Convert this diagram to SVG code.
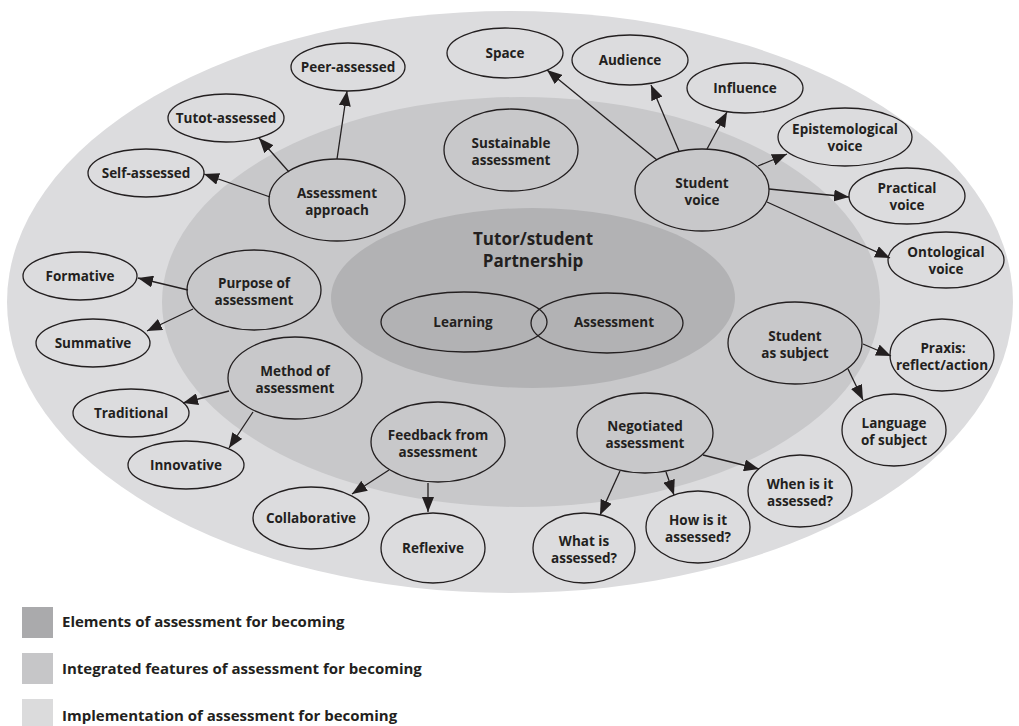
<svg xmlns="http://www.w3.org/2000/svg" width="1019" height="726" viewBox="0 0 1019 726">
<defs>
<style>
.n{fill:none;stroke:#231f20;stroke-width:1.3}
.t{font-family:"Open Sans","Liberation Sans",sans-serif;font-weight:700;font-size:13.5px;fill:#231f20;text-anchor:middle}
.h{font-size:17px}
.c{stroke:#231f20;stroke-width:1.3;fill:none;marker-end:url(#ah)}
.lg{font-family:"Open Sans","Liberation Sans",sans-serif;font-weight:700;font-size:15px;fill:#231f20}
</style>
<marker id="ah" markerUnits="userSpaceOnUse" markerWidth="16" markerHeight="12" refX="15" refY="6" orient="auto">
<path d="M0,0 L15,6 L0,12 z" fill="#231f20"/>
</marker>
</defs>
<rect width="1019" height="726" fill="#ffffff"/>
<g id="bands">
<ellipse cx="510" cy="302" rx="503" ry="291" fill="#dcdcde"/>
<ellipse cx="521" cy="302" rx="359" ry="205" fill="#c8c8ca"/>
<ellipse cx="533" cy="298" rx="202" ry="90" fill="#b2b2b4"/>
</g>
<g id="connectors">
<line class="c" x1="270" y1="197" x2="204" y2="174"/>
<line class="c" x1="289" y1="172" x2="259" y2="138"/>
<line class="c" x1="337" y1="159" x2="347" y2="91"/>
<line class="c" x1="657" y1="160" x2="547" y2="70"/>
<line class="c" x1="679" y1="151" x2="651" y2="85"/>
<line class="c" x1="707" y1="149" x2="727" y2="112"/>
<line class="c" x1="758" y1="166" x2="787" y2="154"/>
<line class="c" x1="769" y1="189" x2="849" y2="197"/>
<line class="c" x1="767" y1="202" x2="890" y2="258"/>
<line class="c" x1="188" y1="290" x2="138" y2="278"/>
<line class="c" x1="193" y1="309" x2="147" y2="331"/>
<line class="c" x1="229" y1="391" x2="183" y2="403"/>
<line class="c" x1="253" y1="412" x2="229" y2="448"/>
<line class="c" x1="389" y1="470" x2="352" y2="494"/>
<line class="c" x1="428" y1="483" x2="428" y2="512"/>
<line class="c" x1="620" y1="471" x2="600" y2="515"/>
<line class="c" x1="666" y1="472" x2="674" y2="495"/>
<line class="c" x1="703" y1="455" x2="759" y2="469"/>
<line class="c" x1="863" y1="344" x2="891" y2="356"/>
<line class="c" x1="848" y1="369" x2="863" y2="400"/>
</g>
<g id="partnership"><text class="t h" x="533" y="245">Tutor/student</text><text class="t h" x="533" y="267">Partnership</text></g>
<g id="learning"><ellipse class="n" cx="464" cy="322" rx="83" ry="30"/><text class="t" x="463" y="327">Learning</text></g>
<g id="assessment"><ellipse class="n" cx="607" cy="323" rx="76" ry="30"/><text class="t" x="614" y="327">Assessment</text></g>
<g id="assessment-approach"><ellipse class="n" cx="337" cy="200" rx="68" ry="41"/><text class="t" x="337" y="198">Assessment</text><text class="t" x="337" y="215">approach</text></g>
<g id="peer"><ellipse class="n" cx="348" cy="67" rx="57" ry="24"/><text class="t" x="348" y="72">Peer-assessed</text></g>
<g id="tutot"><ellipse class="n" cx="226" cy="118" rx="58" ry="24"/><text class="t" x="226" y="123">Tutot-assessed</text></g>
<g id="self"><ellipse class="n" cx="146" cy="173" rx="58" ry="24"/><text class="t" x="146" y="178">Self-assessed</text></g>
<g id="space"><ellipse class="n" cx="505" cy="53" rx="58" ry="25"/><text class="t" x="505" y="58">Space</text></g>
<g id="audience"><ellipse class="n" cx="630" cy="60" rx="58" ry="25"/><text class="t" x="630" y="65">Audience</text></g>
<g id="influence"><ellipse class="n" cx="745" cy="88" rx="58" ry="25"/><text class="t" x="745" y="93">Influence</text></g>
<g id="epistemological"><ellipse class="n" cx="845" cy="137" rx="67" ry="29"/><text class="t" x="845" y="134">Epistemological</text><text class="t" x="845" y="151">voice</text></g>
<g id="practical"><ellipse class="n" cx="907" cy="196" rx="58" ry="28"/><text class="t" x="907" y="193">Practical</text><text class="t" x="907" y="210">voice</text></g>
<g id="ontological"><ellipse class="n" cx="946" cy="260" rx="58" ry="28"/><text class="t" x="946" y="257">Ontological</text><text class="t" x="946" y="274">voice</text></g>
<g id="student-voice"><ellipse class="n" cx="702" cy="190" rx="67" ry="41"/><text class="t" x="702" y="188">Student</text><text class="t" x="702" y="205">voice</text></g>
<g id="sustainable"><ellipse class="n" cx="511" cy="150" rx="67" ry="41"/><text class="t" x="511" y="148">Sustainable</text><text class="t" x="511" y="165">assessment</text></g>
<g id="purpose"><ellipse class="n" cx="254" cy="290" rx="67" ry="40"/><text class="t" x="254" y="288">Purpose of</text><text class="t" x="254" y="305">assessment</text></g>
<g id="formative"><ellipse class="n" cx="80" cy="276" rx="57" ry="24"/><text class="t" x="80" y="281">Formative</text></g>
<g id="summative"><ellipse class="n" cx="93" cy="343" rx="57" ry="24"/><text class="t" x="93" y="348">Summative</text></g>
<g id="method"><ellipse class="n" cx="295" cy="378" rx="67" ry="41"/><text class="t" x="295" y="376">Method of</text><text class="t" x="295" y="393">assessment</text></g>
<g id="traditional"><ellipse class="n" cx="131" cy="413" rx="58" ry="24"/><text class="t" x="131" y="418">Traditional</text></g>
<g id="innovative"><ellipse class="n" cx="186" cy="465" rx="58" ry="24"/><text class="t" x="186" y="470">Innovative</text></g>
<g id="feedback"><ellipse class="n" cx="438" cy="442" rx="67" ry="40"/><text class="t" x="438" y="440">Feedback from</text><text class="t" x="438" y="457">assessment</text></g>
<g id="collaborative"><ellipse class="n" cx="311" cy="518" rx="58" ry="31"/><text class="t" x="311" y="523">Collaborative</text></g>
<g id="reflexive"><ellipse class="n" cx="433" cy="548" rx="52" ry="35"/><text class="t" x="433" y="553">Reflexive</text></g>
<g id="negotiated"><ellipse class="n" cx="645" cy="433" rx="68" ry="40"/><text class="t" x="645" y="431">Negotiated</text><text class="t" x="645" y="448">assessment</text></g>
<g id="what"><ellipse class="n" cx="584" cy="548" rx="51" ry="35"/><text class="t" x="584" y="546">What is</text><text class="t" x="584" y="563">assessed?</text></g>
<g id="how"><ellipse class="n" cx="698" cy="527" rx="52" ry="36"/><text class="t" x="698" y="525">How is it</text><text class="t" x="698" y="542">assessed?</text></g>
<g id="when"><ellipse class="n" cx="800" cy="491" rx="52" ry="36"/><text class="t" x="800" y="489">When is it</text><text class="t" x="800" y="506">assessed?</text></g>
<g id="student-subject"><ellipse class="n" cx="795" cy="343" rx="67" ry="41"/><text class="t" x="795" y="341">Student</text><text class="t" x="795" y="358">as subject</text></g>
<g id="praxis"><ellipse class="n" cx="942" cy="355" rx="52" ry="36"/><text class="t" x="943" y="353">Praxis:</text><text class="t" x="942" y="370">reflect/action</text></g>
<g id="language"><ellipse class="n" cx="894" cy="430" rx="52" ry="36"/><text class="t" x="894" y="428">Language</text><text class="t" x="894" y="445">of subject</text></g>
<g id="legend">
<rect x="22" y="607" width="31" height="31" fill="#aaaaac"/>
<text class="lg" x="62" y="627">Elements of assessment for becoming</text>
<rect x="22" y="653" width="31" height="31" fill="#c6c6c8"/>
<text class="lg" x="62" y="674">Integrated features of assessment for becoming</text>
<rect x="22" y="699" width="31" height="31" fill="#dbdbdc"/>
<text class="lg" x="62" y="721">Implementation of assessment for becoming</text>
</g>
</svg>
